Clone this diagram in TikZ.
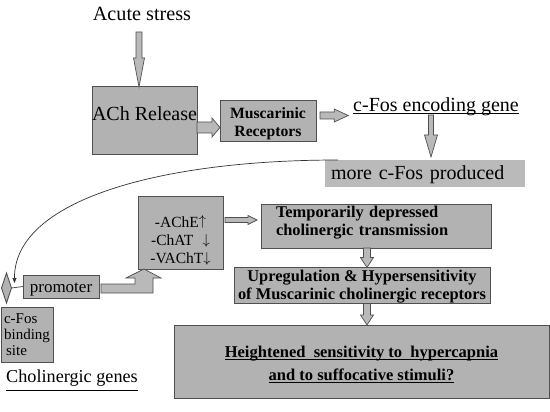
\documentclass[tikz,border=0pt]{standalone}
\usepackage{fontspec}
\setmainfont{Liberation Serif}
\usetikzlibrary{calc,shapes.geometric,arrows.meta}
\definecolor{boxgray}{RGB}{178,178,178}
\definecolor{lightbox}{RGB}{186,186,186}
\definecolor{edgegray}{RGB}{80,80,80}
\definecolor{arrgray}{RGB}{185,185,185}
\newcommand{\uln}[2][2pt]{\setbox0\hbox{#2}\rlap{\rule[-#1]{\wd0}{0.8pt}}\box0}
\newcommand{\tstrut}[1]{\rule{0pt}{#1}}
\newcommand{\bstrut}[1]{\rule[-#1]{0pt}{#1}}
\newcommand{\upar}{\raisebox{1.5pt}{$\big\uparrow$}}
\newcommand{\dnar}{\raisebox{0.5pt}{$\big\downarrow$}}
\newcommand{\blockarrow}[5]{%
  \coordinate (ba-hb) at ($(#2)!#5pt!(#1)$);
  \draw[barrow] ($(#1)!#3pt!90:(#2)$) -- ($(ba-hb)!#3pt!90:(#2)$) -- ($(ba-hb)!#4pt!90:(#2)$) -- (#2)
    -- ($(ba-hb)!#4pt!-90:(#2)$) -- ($(ba-hb)!#3pt!-90:(#2)$) -- ($(#1)!#3pt!-90:(#2)$) -- cycle;
}
\begin{document}
\begin{tikzpicture}[x=1pt,y=-1pt,
  box/.style={draw=edgegray, fill=boxgray, line width=1pt, inner sep=0pt, outer sep=0pt},
  barrow/.style={draw=edgegray, fill=arrgray, line width=0.7pt, line join=miter},
  plain/.style={inner sep=0pt, outer sep=0pt},
  bigf/.style={font=\fontsize{20}{23}\selectfont},
  boldf/.style={font=\fontsize{16.4}{18}\selectfont\bfseries},
]
\useasboundingbox[fill=white] (0,0) rectangle (550,412);

% nodes
\node[plain, anchor=base, font=\fontsize{20.2}{23}\selectfont] (stress) at (142,21) {Acute stress};
\node[box, bigf, minimum width=105, minimum height=68, text height=14pt, text depth=14pt] (ach) at (144.5,121) {ACh Release};
\node[box, minimum width=96, minimum height=41, align=center, font=\fontsize{15.7}{18}\selectfont\bfseries] (mus) at (268,121.5) {\tstrut{18pt}Muscarinic\\Receptors\bstrut{5pt}};
\node[plain, bigf, anchor=base] (gene) at (436,112) {\uln[2.3pt]{c-Fos encoding gene}};
\node[plain, bigf, fill=lightbox, minimum width=200, minimum height=27, text width=188, align=left, text height=17pt, text depth=4pt] (mcp) at (425,173.5) {more c-Fos produced};

\node[box, minimum width=85, minimum height=72, align=center, font=\fontsize{15.5}{18}\selectfont] (genes) at (180.5,233)
  {\tstrut{27pt}-AChE\upar\\-ChAT\hspace{0.6em}\dnar\\-VAChT\dnar\bstrut{1pt}};
\node[box, boldf, minimum width=230, minimum height=41, text width=200, align=left] (tdep) at (376,226.5)
  {\tstrut{13pt}Temporarily depressed\\cholinergic transmission\bstrut{12pt}};
\node[box, boldf, minimum width=256, minimum height=33, align=center] (upreg) at (362,285.5)
  {\tstrut{14pt}Upregulation \& Hypersensitivity\\of Muscarinic cholinergic receptors\bstrut{4pt}};
\node[box, minimum width=375, minimum height=73, align=center, font=\fontsize{16.5}{23}\selectfont\bfseries] (height) at (361.5,361.5)
  {\tstrut{19pt}\uln[3pt]{Heightened\ \ sensitivity to\ \ hypercapnia}\\\uln[3pt]{and to suffocative stimuli?}\bstrut{5pt}};

\node[draw=edgegray, fill=boxgray, line width=0.8pt, diamond, aspect=0.33, minimum width=10, minimum height=30, inner sep=0pt, outer sep=0pt] (dia) at (6.5,288) {};
\node[box, minimum width=76, minimum height=23, font=\fontsize{17}{20}\selectfont, text height=15pt, text depth=4pt] (prom) at (61,286.5) {promoter};
\node[box, minimum width=52, minimum height=55, align=left, font=\fontsize{15}{16}\selectfont] (cfbs) at (27,334.5)
  {\tstrut{12pt}c-Fos\\binding\\\hspace{2pt}site\bstrut{3pt}};
\node[plain, anchor=base, font=\fontsize{18.2}{20}\selectfont] (chol) at (72,382) {\uln[9pt]{Cholinergic genes}};

% block arrows
\coordinate (a1s) at ($(stress.base)+(-3,11)$);
\coordinate (a1e) at (a1s |- ach.north);
\blockarrow{a1s}{a1e}{3}{5.5}{29}
\coordinate (a2s) at ($(ach.east)+(0,6.5)$);
\coordinate (a2e) at (a2s -| mus.west);
\blockarrow{a2s}{a2e}{5.5}{9.5}{8}
\coordinate (a3s) at ($(mus.east)+(4,-6)$);
\coordinate (a3e) at ($(a3s -| gene.west)+(-5,0)$);
\blockarrow{a3s}{a3e}{3.5}{6.5}{14}
\coordinate (a4s) at ($(gene.base)+(-5,3)$);
\coordinate (a4e) at ($(a4s |- mcp.north)+(0,-3)$);
\blockarrow{a4s}{a4e}{2.5}{6.5}{22}
\coordinate (a5s) at ($(genes.east)+(2,-13)$);
\coordinate (a5e) at ($(a5s -| tdep.west)+(-4,0)$);
\blockarrow{a5s}{a5e}{2.5}{4.5}{9}
\coordinate (a6s) at ($(tdep.south)+(-9,0)$);
\coordinate (a6e) at (a6s |- upreg.north);
\blockarrow{a6s}{a6e}{3.5}{6.5}{10}
\coordinate (a7s) at ($(upreg.south)+(5,0)$);
\coordinate (a7e) at (a7s |- height.north);
\blockarrow{a7s}{a7e}{3.5}{6.5}{10}

% bent arrow promoter -> genes
\coordinate (bs) at ($(prom.east)+(2,2)$);
\coordinate (bt) at ($(genes.south west)+(6,0)$);
\draw[barrow] ($(bs)+(0,-4.5)$) -- ($(bt |- bs)+(-9,-4.5)$) -- ($(bt)+(-9,9)$) -- ($(bt)+(-18,9)$)
  -- (bt) -- ($(bt)+(17,9)$) -- ($(bt)+(9,9)$) -- ($(bt |- bs)+(9,4.5)$) -- ($(bs)+(0,4.5)$) -- cycle;

% line diamond - promoter
\draw[edgegray, line width=0.8pt] (dia.east) -- (prom.west);

% curved feedback arrow
\coordinate (c0) at ($(mcp.north west)+(13,0)$);
\coordinate (c1) at ($(dia.east)+(3,-5)$);
\draw[black!80, line width=0.7pt, -{Triangle[length=5pt,width=4pt]}] (c0) .. controls (160,160) and (14,200) .. (c1);
\end{tikzpicture}
\end{document}
